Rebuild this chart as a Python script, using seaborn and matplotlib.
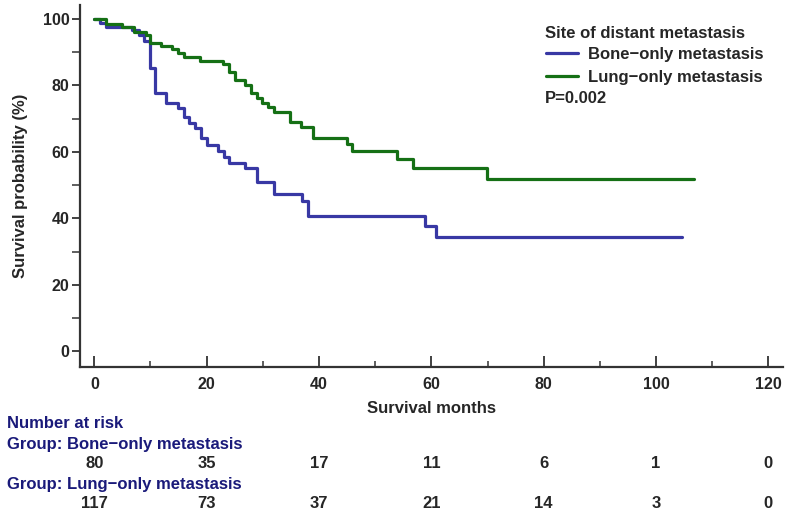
import matplotlib
matplotlib.use("Agg")
import matplotlib.pyplot as plt
import matplotlib.transforms as mtransforms
import seaborn as sns
import pandas as pd

# Kaplan-Meier steps: month of each drop and survival (%) after it
bone_months = [0, 1, 2, 6.7, 7.9, 8.9, 9.9, 10.8, 12.7, 14.9, 15.9, 16.9, 18.0, 19.0, 20.0,
               22.1, 23.0, 24.0, 26.9, 29.0, 32.0, 37.0, 38.0, 58.9, 60.8, 104.7]
bone_surv = [100, 98.8, 97.6, 96.8, 95.2, 93.4, 85.1, 77.6, 74.6, 73.1, 70.6, 68.8, 67.1, 64.1, 62.1,
             60.3, 58.6, 56.8, 55.1, 51.1, 47.4, 45.1, 40.8, 37.7, 34.4, 34.4]

lung_months = [0, 2.1, 4.9, 7.1, 9.2, 9.9, 11.9, 13.9, 14.9, 15.9, 18.9, 22.9, 23.9, 25.1, 26.9,
               27.9, 29.0, 29.9, 31.0, 31.9, 34.9, 36.8, 38.9, 44.9, 45.8, 53.9, 56.8, 69.9, 106.8]
lung_surv = [100, 98.4, 97.7, 96.0, 95.2, 92.7, 91.9, 90.9, 89.9, 88.7, 87.3, 86.4, 84.1, 81.6, 80.1,
             77.6, 76.3, 74.6, 73.4, 72.1, 69.1, 67.6, 64.3, 62.3, 60.3, 57.8, 55.3, 52.0, 52.0]

risk_times = [0, 20, 40, 60, 80, 100, 120]
risk_bone = [80, 35, 17, 11, 6, 1, 0]
risk_lung = [117, 73, 37, 21, 14, 3, 0]

bone_name = "Bone\u2212only metastasis"
lung_name = "Lung\u2212only metastasis"

df = pd.concat([
    pd.DataFrame({"month": bone_months, "surv": bone_surv, "group": bone_name}),
    pd.DataFrame({"month": lung_months, "surv": lung_surv, "group": lung_name}),
], ignore_index=True)

sns.set_style("ticks")
plt.rcParams["font.family"] = ["Liberation Sans", "DejaVu Sans"]
plt.rcParams["font.weight"] = "bold"
fs = 11.5   # tick labels
fs2 = 12    # labels, legend and risk table
ink = "#333333"
navy = "#1a1a7a"

fig = plt.figure(figsize=(7.87, 5.13), dpi=100)
ax = fig.add_axes([80 / 787, 1 - 367 / 513, 703 / 787, 362 / 513])

sns.lineplot(data=df, x="month", y="surv", hue="group",
             palette={bone_name: "#3838a4", lung_name: "#157015"},
             estimator=None, sort=False, drawstyle="steps-post", linewidth=2.3, ax=ax)

ax.set_xlim(-2.55, 122.6)
ax.set_ylim(-4.7, 104.2)
ax.set_xticks(range(0, 121, 20))
ax.set_xticks(range(10, 120, 20), minor=True)
ax.set_yticks(range(0, 101, 20))
ax.set_yticks(range(10, 100, 20), minor=True)

for side in ["top", "right"]:
    ax.spines[side].set_visible(False)
for side in ["left", "bottom"]:
    ax.spines[side].set_linewidth(1.6)
    ax.spines[side].set_color(ink)

ax.tick_params(axis="x", which="major", direction="in", length=8, width=1.3, color=ink, pad=7, labelsize=fs)
ax.tick_params(axis="x", which="minor", direction="in", length=4, width=1.1, color=ink)
ax.tick_params(axis="y", which="major", direction="out", length=6, width=1.3, color=ink, pad=1.5, labelsize=fs)
ax.tick_params(axis="y", which="minor", direction="out", length=6, width=1.1, color=ink)

ax.set_xlabel("Survival months", fontsize=fs2, fontweight="bold", labelpad=7)
ax.set_ylabel("Survival probability (%)", fontsize=fs2, fontweight="bold", labelpad=11)

handles, labels = ax.get_legend_handles_labels()
leg = ax.legend(handles, labels, loc="upper left", bbox_to_anchor=(538 / 787, 1 - 39 / 513),
                bbox_transform=fig.transFigure, frameon=False, borderpad=0,
                handlelength=1.9, handletextpad=0.6, labelspacing=0.45,
                prop={"size": fs2, "weight": "bold"})
fig.text(545 / 787, 1 - 33 / 513, "Site of distant metastasis", fontsize=fs2, fontweight="bold", va="center")
fig.text(545 / 787, 1 - 99 / 513, "P=0.002", fontsize=fs2, fontweight="bold", va="center")

# number at risk table
fig.text(7 / 787, 1 - 423 / 513, "Number at risk", color=navy, fontsize=fs2, fontweight="bold", va="center")
fig.text(7 / 787, 1 - 444 / 513, "Group: " + bone_name, color=navy, fontsize=fs2, fontweight="bold", va="center")
fig.text(7 / 787, 1 - 485 / 513, "Group: " + lung_name, color=navy, fontsize=fs2, fontweight="bold", va="center")
trans = mtransforms.blended_transform_factory(ax.transData, fig.transFigure)
for t, b, l in zip(risk_times, risk_bone, risk_lung):
    ax.text(t, 1 - 464 / 513, str(b), transform=trans, ha="center", va="center",
            fontsize=fs2, fontweight="bold", clip_on=False)
    ax.text(t, 1 - 503 / 513, str(l), transform=trans, ha="center", va="center",
            fontsize=fs2, fontweight="bold", clip_on=False)

fig.savefig("out.png", dpi=100)
